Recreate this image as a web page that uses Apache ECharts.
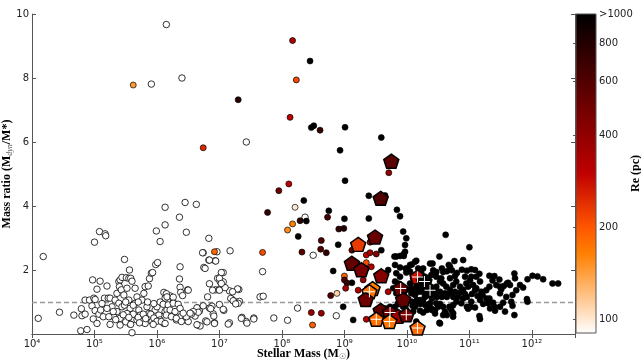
<!DOCTYPE html>
<html>
<head>
<meta charset="utf-8">
<script src="https://cdn.jsdelivr.net/npm/echarts@6/dist/echarts.min.js"></script>
<style>
html, body { margin: 0; padding: 0; background: #fff; }
#chart { width: 641px; height: 364px; }
</style>
</head>
<body>
<div id="chart"></div>
<script>
// ---------- DATA ----------
// masses are log10(M*/Msun), ratio is Mdyn/M*, Re in pc

// galaxies without a size measurement (open circles)
var openPts = [
	[4.10,0.49],[4.18,2.42],[4.44,0.68],[4.67,0.59],[4.79,0.79],[4.80,0.57],[4.85,0.62],[4.78,0.10],[4.88,0.14],
	[4.85,1.06],[4.92,1.06],[4.99,1.12],[5.01,1.08],[4.96,0.88],[5.01,0.73],[4.98,0.47],[5.04,0.33],[5.07,0.62],
	[5.10,0.75],[5.14,0.54],[5.16,1.12],[5.22,1.12],[5.25,1.12],[5.20,1.50],[5.04,1.40],[4.97,1.69],[5.09,1.65],
	[5.00,2.87],[5.08,3.20],[5.17,3.13],[5.18,3.07],[5.28,0.85],[5.31,0.54],[5.23,0.54],[5.33,1.06],[5.36,1.27],
	[5.39,1.64],[5.41,1.69],[5.44,1.77],[5.40,1.48],[5.43,1.38],[5.47,1.22],[5.39,0.96],[5.44,0.85],[5.36,0.70],
	[5.41,0.49],[5.41,0.28],[5.48,2.33],[5.51,1.76],[5.55,1.74],[5.56,2.00],[5.58,1.74],[5.60,1.65],[5.52,1.43],
	[5.55,1.06],[5.57,0.80],[5.52,0.64],[5.60,0.44],[5.57,0.31],[5.60,0.04],[5.65,1.43],[5.68,1.16],[5.65,0.96],
	[5.71,0.75],[5.73,0.59],[5.68,0.44],[5.76,0.39],[5.76,1.06],[5.79,1.27],[5.81,1.48],[5.86,1.50],[5.88,1.73],
	[5.91,1.90],[5.93,1.92],[5.84,0.85],[5.87,0.64],[5.89,0.49],[5.81,0.33],[5.92,0.39],[5.97,0.75],[6.00,0.85],
	[6.03,0.59],[6.05,0.44],[5.98,2.17],[6.01,2.23],[5.99,3.22],[6.05,2.89],[6.13,3.96],[6.13,3.41],[6.11,1.30],
	[6.13,1.12],[6.13,0.70],[6.11,0.33],
	[5.30,0.70],[5.34,0.45],[5.46,0.60],[5.50,0.38],[5.62,0.62],[5.70,0.52],[5.78,0.62],[5.82,0.48],[5.90,0.62],
	[5.95,0.50],[6.00,0.40],[5.94,0.30],[5.55,0.52],[5.48,0.90],[5.62,0.90],[5.70,1.00],[5.85,1.00],[5.95,0.95],
	[6.05,1.00],[5.25,0.30],[5.58,0.30],[5.72,0.35],[5.50,1.00],[5.20,0.80],[5.12,0.95],
	[6.36,3.65],[6.45,4.11],[6.47,3.18],[6.63,4.05],[6.36,1.72],[6.37,1.46],[6.38,1.30],[6.41,1.20],[6.37,2.10],
	[6.49,1.38],[6.26,0.99],[6.21,1.19],[6.16,0.75],[6.26,0.59],[6.31,0.44],[6.38,0.54],[6.47,0.44],[6.56,0.65],
	[6.61,0.56],[6.65,0.28],[6.69,0.25],[6.65,0.81],[6.68,0.72],[6.74,2.54],[6.75,2.08],[6.83,2.99],[6.83,2.31],
	[6.81,1.16],[6.84,1.57],[6.88,0.87],[6.78,0.41],[6.90,0.63],[6.92,0.35],[6.96,2.57],[6.93,2.29],[6.94,1.38],
	[6.99,1.38],[6.97,1.74],[7.01,1.64],[7.06,1.92],[7.06,1.63],[7.07,0.74],[7.16,1.35],[7.17,2.60],[7.20,1.08],
	[7.31,1.39],[7.24,1.02],[7.32,1.02],[7.16,0.35],[7.36,0.52],[7.43,0.39],[7.44,0.34],[7.55,0.50],[7.69,1.95],
	[7.65,1.16],[7.70,1.18],[7.87,0.50],[8.09,0.43],[8.25,0.81],[8.37,3.65],[8.50,2.46],[8.87,0.57],
	[6.15,9.67],[5.91,7.81],[6.40,8.00],[7.43,6.00],
	[6.15,1.26],[6.16,1.16],[6.26,1.15],[6.50,1.37],[7.18,1.11],[7.22,1.04],[7.30,0.96],[7.26,0.94],[7.00,0.92],
	[7.06,0.77],[6.84,0.81],[6.86,0.79],[6.64,0.82],[6.66,0.68],[6.58,0.70],[6.55,0.62],[6.91,0.56],[6.92,0.33],
	[6.80,0.38],[6.64,0.29],[7.14,0.31],[7.35,0.49],[7.55,0.47],[6.74,0.88],[6.89,1.37],[7.00,1.37],[7.09,1.45],
	[7.29,1.41],[7.21,1.32],[6.73,2.54],[6.77,2.05],[7.03,1.92],[7.00,1.74],[7.03,1.58],[6.84,2.31],[6.94,2.28],
	[6.10,0.93],[6.18,0.91],[6.26,0.96],[6.34,0.93],[6.21,0.75],[6.29,0.70],[6.37,0.80],[6.15,0.59],[6.23,0.54],
	[6.31,0.49],[6.45,0.44],[6.50,0.39],[6.07,0.39],[6.13,0.33],[6.39,0.39],[6.47,0.54],[6.53,0.65],[6.42,0.65]
];

// small coloured circles: [logM, ratio, Re]
var dotPts = [
	[5.62,7.78,146],[6.74,5.82,250],[7.30,7.32,780],[8.17,9.17,340],[8.23,7.94,215],[8.13,6.77,300],[8.61,6.37,700],
	[9.71,5.04,380],[7.95,4.48,500],[8.11,4.69,300],[7.77,3.80,720],[8.21,3.96,100],[8.17,3.44,165],[8.09,3.25,155],
	[6.92,2.57,185],[7.69,2.55,210],[8.29,3.54,800],[8.73,3.65,650],[8.91,3.28,750],[8.99,3.30,800],[8.63,2.92,600],
	[8.62,2.65,600],[8.71,2.54,700],[8.32,2.56,550],[9.12,2.62,520],[9.41,2.87,350],[9.35,2.47,300],[9.51,2.50,450],
	[9.35,2.23,210],[9.43,2.10,320],[9.00,1.81,185],[9.00,1.69,600],[9.04,1.59,700],[9.02,1.43,350],[8.88,1.27,110],
	[8.78,1.20,600],[9.35,0.46,330],[8.47,0.67,380],[8.63,0.65,380],[8.49,0.28,190],[9.22,1.37,330],[9.30,1.69,380],
	[9.41,2.54,350],[9.70,1.32,330]
];

// Re above 1000 pc (black circles): [logM, ratio]
var bigPts = [
	[8.45,8.53],[8.47,6.45],[8.51,6.51],[9.01,6.46],[9.59,6.14],[8.93,5.74],[9.01,4.79],[9.65,4.33],[9.39,4.32],
	[8.35,4.17],[8.75,3.85],[9.84,3.88],[8.39,3.53],[9.00,3.60],[9.39,3.61],[9.89,3.68],[8.26,3.05],[8.90,2.79],
	[9.59,2.62],[9.94,3.20],[9.99,2.99],[9.97,2.78],[8.82,1.97],[9.12,1.60],[8.98,0.85],[9.14,0.44],[9.35,2.05],
	[9.70,2.00],[9.95,2.44],[9.97,2.57],[10.62,3.10],[11.00,2.71],[10.52,2.42],[10.15,2.29],[10.08,2.17],[10.01,2.05],
	[9.99,1.92],[10.90,2.31],[10.76,2.28],[10.67,2.16],[10.69,2.10],[10.37,2.20],[10.41,2.20],[10.26,2.05],[10.42,1.99],
	[10.47,1.94],[10.56,2.05],[10.58,1.94],[10.64,1.96],[10.72,1.99],[10.80,1.91],[10.88,2.01],[10.96,1.98],[11.03,2.02],
	[11.09,2.00],[11.16,1.88],[11.32,1.82],[11.40,1.81],[11.48,1.70],[11.72,1.89],[11.73,1.74],[11.93,1.71],[12.01,1.82],
	[12.09,1.80],[12.18,1.71],[12.33,1.58],[12.42,1.58],[11.92,1.09],[11.93,1.01],[11.60,1.58],[11.65,1.53],[11.49,1.48],
	[11.62,1.60],[11.75,1.37],[11.69,1.22],[11.59,1.16],[11.49,1.27],[11.51,1.40],[11.43,1.53],[11.37,1.67],[11.32,1.48],
	[11.27,1.37],[11.21,1.22],[11.19,1.32],[11.27,1.11],[11.32,1.11],[11.13,1.19],[11.17,1.06],[11.09,1.37],[11.04,1.25],
	[10.98,1.48],[11.49,0.85],[11.41,0.73],[11.57,0.70],[11.69,0.88],[11.72,0.59],[11.16,0.56],[11.17,0.47],[11.02,0.85],
	[11.09,0.83],[10.98,0.79],[10.96,0.85],[10.68,0.85],[10.74,0.90],[10.71,0.75],[10.61,0.70],[10.58,0.85],[10.64,0.59],
	[10.74,0.54],[10.52,0.35],[10.45,0.64],[10.40,0.75],[10.32,0.75],[10.26,0.67],[10.21,0.73],[10.13,0.85],[10.09,0.88],
	[10.08,1.01],[10.16,1.06],[10.24,1.01],[10.29,1.16],[10.35,1.22],[10.40,1.11],[10.48,1.16],[10.56,1.16],[10.64,1.16],
	[10.74,1.16],[10.82,1.16],[10.90,1.11],[10.96,1.16],[9.99,1.38],[10.07,1.43],[10.15,1.48],[10.21,1.58],[10.26,1.64],
	[10.31,1.53],[10.37,1.43],[10.42,1.38],[10.47,1.48],[10.53,1.64],[10.58,1.58],[10.63,1.48],[10.69,1.38],[10.74,1.53],
	[10.79,1.64],[10.85,1.48],[10.90,1.38],[10.95,1.58],[11.01,1.67],[11.06,1.53],[11.11,1.43],[10.05,1.58],[10.10,1.74],
	[10.18,1.79],[10.23,1.90],[10.34,1.74],[10.39,1.84],[10.47,1.79],[10.55,1.74],[10.69,1.74],[10.77,1.81],[10.93,1.79],
	[11.03,1.79],[11.11,1.79],[11.17,1.64],[10.10,1.27],[10.18,1.32],[10.26,1.38],[10.34,1.32],[10.45,1.27],[10.53,1.32],
	[10.61,1.27],[10.69,1.27],[10.77,1.32],[10.85,1.29],[10.93,1.25],[10.13,0.96],[10.21,0.94],[10.29,0.91],[10.37,0.96],
	[10.47,0.96],[10.53,0.94],[10.79,1.01],[10.87,0.96],[11.03,1.01],[11.22,0.94],[11.30,0.96],[11.38,0.98],[11.54,0.98],
	[11.67,1.01],[11.33,0.80],[11.40,0.85],[10.74,0.65],[9.80,2.42],[9.83,2.42],[9.89,2.44],[9.95,2.50],[9.81,2.16],
	[9.89,2.08],[9.98,2.05],[9.83,1.90],[9.89,1.79],[9.81,1.64],[9.86,1.58],[9.78,1.43],[9.83,1.27],[9.86,0.96],
	[9.81,0.85],[9.73,0.85],[9.66,0.80],[9.62,0.54],[9.94,0.85],[9.99,0.75],[10.05,0.54],[10.10,0.70],[10.15,0.39],
	[10.07,1.27],[10.13,1.22],[10.10,1.38],[10.21,1.48],[10.23,1.32],[10.29,1.17],[10.21,1.06],[10.26,1.01],[10.34,0.91],
	[10.39,0.80],[10.45,0.75],[10.50,0.85],[10.53,0.33],[10.58,0.59],[10.05,2.16],[10.13,2.26],[10.18,2.05],[10.05,1.95],
	[10.21,1.79],[10.15,1.69],[10.29,1.79],[10.34,1.69],[10.23,1.58],[11.81,1.53],[11.86,1.45],[11.55,1.50]
];

// pentagons: [logM, ratio, Re, cross]
var pentPts = [
	[9.75,5.40,570,0],[9.58,4.24,600,0],[9.49,3.03,520,0],[9.22,2.80,230,0],[9.12,2.21,540,0],[9.27,2.01,470,0],
	[9.59,1.82,430,0],[9.45,1.42,165,0],[9.40,1.32,175,1],[9.34,1.08,500,0],[10.17,1.78,280,1],[9.90,1.42,520,1],
	[9.94,1.08,540,0],[9.58,0.74,560,0],[9.73,0.67,480,1],[9.86,0.55,360,0],[9.99,0.60,480,1],[9.51,0.46,180,1],
	[9.72,0.39,175,1],[10.17,0.19,185,1],[10.28,1.64,1000,1],[10.37,1.37,1000,1]
];

var cbarTicks = [100, 200, 400, 600, 800, 1000];
var reMin = 90, reMax = 1000;

// gist_heat reversed, evenly spaced (12 steps)
var heatColors = ['#ffffff','#ffd4aa','#ffaa55','#ff8000','#ff5500','#df2b00','#bf0000',
	'#9f0000','#800000','#600000','#400000','#200000','#000000'];

// ---------- CHART ----------
var chart = echarts.init(document.getElementById('chart'), null, {renderer: 'canvas'});

var xMin = 1e4, xMax = Math.pow(10, 12.69);
var supDigits = '⁰¹²³⁴⁵⁶⁷⁸⁹';
function powLabel(v) {
	var e = Math.round(Math.log10(v));
	return '10' + String(e).split('').map(function (d) { return supDigits[+d]; }).join('');
}

var serifBold = {fontFamily: 'Liberation Serif', fontWeight: 'bold', fontSize: 12, color: '#000'};
var tickFont = {fontFamily: 'DejaVu Sans', fontSize: 10, color: '#222'};
var axisGray = '#555';

var heatStops = heatColors.map(function (c, i) { return {offset: i / 12, color: c}; });

var option = {
	animation: false,
	grid: [
		{left: 32, right: 66, top: 14, bottom: 30, outerBoundsMode: 'none', containLabel: false},
		{left: 576, width: 20, top: 14, bottom: 31, outerBoundsMode: 'none', containLabel: false}
	],
	xAxis: [
		{
			type: 'log', logBase: 10, min: xMin, max: xMax, gridIndex: 0,
			name: '{a|Stellar Mass (M}{s|☉}{a|)}', nameLocation: 'middle', nameGap: 13, nameMoveOverlap: false,
			nameTextStyle: {rich: {a: serifBold, s: {fontFamily: 'DejaVu Sans', fontSize: 8, padding: [6, 0, 0, 0]}}},
			axisLine: {lineStyle: {color: axisGray}},
			axisTick: {inside: true, length: 4, lineStyle: {color: axisGray}},
			axisLabel: Object.assign({formatter: powLabel, margin: 5, showMaxLabel: false}, tickFont),
			splitLine: {show: false}
		},
		{
			type: 'log', logBase: 10, min: xMin, max: xMax, gridIndex: 0, position: 'top',
			axisLine: {lineStyle: {color: axisGray}},
			axisTick: {inside: true, length: 4, lineStyle: {color: axisGray}},
			axisLabel: {show: false}, splitLine: {show: false}
		},
		{type: 'value', gridIndex: 1, min: 0, max: 1, show: false}
	],
	yAxis: [
		{
			type: 'value', min: 0, max: 10, interval: 2, gridIndex: 0,
			name: '{a|Mass ratio (M}{s|dyn}{a|/M*)}', nameLocation: 'middle', nameGap: 18, nameMoveOverlap: false,
			nameTextStyle: {rich: {a: serifBold, s: {fontFamily: 'Liberation Serif', fontStyle: 'italic', fontSize: 8, padding: [6, 0, 0, 0]}}},
			axisLine: {lineStyle: {color: axisGray}},
			axisTick: {inside: true, length: 4, lineStyle: {color: axisGray}},
			axisLabel: Object.assign({margin: 3, showMinLabel: false}, tickFont),
			splitLine: {show: false}
		},
		{
			type: 'value', min: 0, max: 10, interval: 2, gridIndex: 0, position: 'right',
			axisLine: {show: true, lineStyle: {color: axisGray}},
			axisTick: {show: true, inside: true, length: 4, lineStyle: {color: axisGray}},
			axisLabel: {show: false}, splitLine: {show: false}
		},
		{
			type: 'value', gridIndex: 1, position: 'right',
			min: Math.log10(reMin), max: Math.log10(reMax),
			name: 'Re (pc)', nameLocation: 'middle', nameGap: 34, nameRotate: 90, nameMoveOverlap: false,
			nameTextStyle: serifBold,
			axisLine: {show: false},
			axisTick: {show: true, inside: true, length: 3, lineStyle: {color: axisGray},
				customValues: cbarTicks.map(function (t) { return Math.log10(t); })},
			axisLabel: Object.assign({
				margin: 3,
				customValues: cbarTicks.map(function (t) { return Math.log10(t); }),
				formatter: function (v) {
					var r = Math.round(Math.pow(10, v));
					return r >= reMax ? '>1000' : String(r);
				}
			}, tickFont),
			splitLine: {show: false}
		}
	],
	visualMap: {
		type: 'continuous', show: false, dimension: 2, seriesIndex: [1, 2, 3],
		min: Math.log10(reMin), max: Math.log10(reMax),
		inRange: {color: heatColors}
	},
	series: [
		{
			type: 'scatter', name: 'no size', z: 3,
			symbol: 'circle', symbolSize: 6.5,
			itemStyle: {color: '#fff', borderColor: '#000', borderWidth: 0.8, opacity: 1},
			data: openPts.map(function (p) { return [Math.pow(10, p[0]), p[1]]; }),
			markLine: {
				silent: true, symbol: 'none', z: 1,
				label: {show: false},
				lineStyle: {color: '#999', type: [5, 3], width: 1.3},
				data: [{yAxis: 1}]
			}
		},
		{
			type: 'scatter', name: 'Re > 1000', z: 3,
			symbol: 'circle', symbolSize: 6,
			itemStyle: {borderColor: '#000', borderWidth: 0.6, opacity: 1},
			data: bigPts.map(function (p) { return [Math.pow(10, p[0]), p[1], Math.log10(reMax)]; })
		},
		{
			type: 'scatter', name: 'dots', z: 4,
			symbol: 'circle', symbolSize: 6,
			itemStyle: {borderColor: '#000', borderWidth: 0.7, opacity: 1},
			data: dotPts.map(function (p) { return [Math.pow(10, p[0]), p[1], Math.log10(p[2])]; })
		},
		{
			type: 'scatter', name: 'pentagons', z: 5,
			symbol: 'path://M0,-1L0.951,-0.309L0.588,0.809L-0.588,0.809L-0.951,-0.309Z',
			symbolSize: [15, 14],
			itemStyle: {borderColor: '#000', borderWidth: 1.5, opacity: 1},
			data: pentPts.map(function (p) { return [Math.pow(10, p[0]), p[1], Math.log10(p[2])]; })
		},
		{
			type: 'scatter', name: 'cross', z: 6,
			symbol: 'path://M-0.09,-1H0.09V-0.09H1V0.09H0.09V1H-0.09V0.09H-1V-0.09H-0.09Z',
			symbolSize: 11,
			itemStyle: {color: '#fff', opacity: 1},
			data: pentPts.filter(function (p) { return p[3]; }).map(function (p) { return [Math.pow(10, p[0]), p[1]]; })
		},
		{
			type: 'custom', name: 'colorbar', xAxisIndex: 2, yAxisIndex: 2, silent: true,
			renderItem: function (params, api) {
				var lo = api.coord([0, api.value(1)]);
				var hi = api.coord([1, api.value(2)]);
				return {
					type: 'rect',
					shape: {x: lo[0], y: hi[1], width: hi[0] - lo[0], height: lo[1] - hi[1]},
					style: {fill: new echarts.graphic.LinearGradient(0, 1, 0, 0, heatStops), stroke: axisGray, lineWidth: 1}
				};
			},
			encode: {x: 0, y: [1, 2]},
			data: [[0, Math.log10(reMin), Math.log10(reMax)]]
		}
	]
};

chart.setOption(option);
</script>
</body>
</html>
